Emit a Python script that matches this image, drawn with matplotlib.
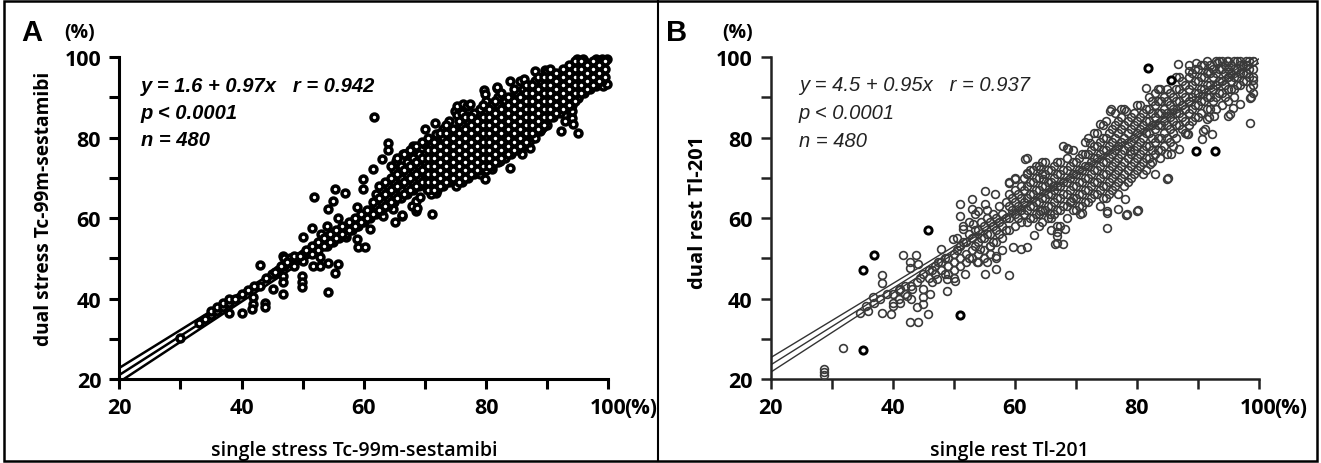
import matplotlib
matplotlib.use("Agg")
import matplotlib.pyplot as plt
from matplotlib.lines import Line2D
from matplotlib.patches import Rectangle
import numpy as np

# ---------------- panel A : stress Tc-99m-sestamibi ----------------
a_fit = (1.6, 0.97)
a_n = 480
a_stats = ["y = 1.6 + 0.97x   r = 0.942", "p < 0.0001", "n = 480"]
a_xlabel = "single stress Tc-99m-sestamibi"
a_ylabel = "dual stress Tc-99m-sestamibi"

# scattered points read one by one
a_outer = [(30, 30.2), (38, 36.5), (40, 36.5), (41.8, 38.7), (41.8, 40.4), (41.7, 37.5),
           (43.8, 39), (43.8, 37.8), (43, 48.3), (43, 43.2), (45.2, 42.3), (46.8, 41.1),
           (46.8, 45.6), (46.8, 44), (46.8, 50.6), (49.8, 45.6), (49.8, 44), (49.8, 42.8),
           (50, 49.2), (50.1, 55.2), (51.5, 57.6), (51.8, 65.2), (51.7, 48.1), (52.8, 50.2),
           (52.8, 48.1), (53.9, 58), (54.1, 62.2), (54.2, 41.5), (54.2, 48.9), (55.2, 67.1),
           (55, 64.2), (55.8, 60.1), (55.8, 48.5), (55.2, 46.3), (56.9, 66.3), (57.1, 55.4),
           (58.8, 62.8), (58.8, 54.7), (58.8, 58), (59.1, 52.7), (60.2, 52.7), (59.9, 69.6),
           (59.9, 67.1), (61, 57.2), (61.5, 72.1), (61.6, 85.2), (62.9, 74.6), (63.2, 60.4),
           (64, 78.7), (64, 77), (64.8, 62.2), (65.1, 58.9), (65.2, 74.2), (66.2, 60.5),
           (66.3, 60.8), (66.4, 75.8), (66.7, 75.8), (67.8, 63), (68.1, 67.6), (68.1, 77.9),
           (68.1, 68.8), (68.4, 77.5), (68.6, 61.8), (68.6, 64.2), (68.7, 62.5), (69.2, 65.1),
           (69.9, 78.3), (70, 82), (70, 78.7), (70.3, 67.1), (71.1, 61.1), (71.6, 83.7),
           (71.8, 80.8), (71.8, 66.2), (72.8, 79.2), (74.9, 86.7), (75.2, 87.8), (75.2, 85.7),
           (76.2, 88.3), (76.8, 87.8), (77.1, 85.3), (77.3, 88.3), (78.2, 84.9), (79, 70.9),
           (79.7, 91.7), (79.8, 90.7), (79.8, 69.6), (80.9, 72.1), (81.7, 92.4), (81.8, 92.5),
           (82.3, 74.2), (83.9, 94), (83.9, 72.5), (85.5, 94), (85.9, 75.8), (86.2, 94.6),
           (87.2, 77.5), (87.7, 80), (88, 96.5), (88.8, 81.6), (88.8, 87.4), (89.3, 82.5),
           (89.7, 96.7), (89.9, 96.5), (89.9, 85.7), (90, 86.2), (91.5, 95.3), (92.1, 88.3),
           (92.3, 81.6), (92.9, 84.1), (93.8, 87.5), (93.8, 85.4), (94, 84.9), (94, 86.6),
           (94, 89.1), (94.2, 83.3), (94.8, 93.7), (95.1, 89.9), (95.1, 81), (94.8, 99.6),
           (95.9, 99.6), (95.3, 97.4), (96.4, 97.4), (96.4, 94.2), (95.6, 93.8), (97.3, 95),
           (97.9, 99.6), (98, 92.9), (98.6, 93.3), (98.6, 99.1), (99, 99.6), (99.1, 97.4),
           (99.1, 95), (99.1, 92.9), (99.7, 99.6), (99.7, 93.3)]

# dense band, read column by column (x : list of y)
a_columns = {
    33: [34], 34: [35], 35: [36, 37], 36: [37, 38], 37: [38, 39], 38: [39, 40],
    39: [40], 40: [41], 41: [42], 42: [43], 44: [45], 45: [46], 46: [47],
    47: [48, 50], 48: [49, 50], 49: [50], 50: [51], 51: [52], 52: [53],
    53: [54, 56], 54: [55, 53], 55: [56, 54], 56: [57, 55], 57: [58, 56],
    58: [59, 57], 59: [60, 58], 60: [61, 59], 61: [62, 60], 62: [63, 61, 66],
    63: [64, 62, 67], 64: [65, 63, 68], 65: [66, 64, 69, 72], 66: [67, 65, 70, 73],
    67: [68, 66, 71, 74], 68: [69, 67, 72, 75], 69: [70, 68, 73, 76],
    70: [71, 69, 74, 76], 71: [66, 68, 70, 72, 74, 76, 78],
    72: [67, 69, 71, 73, 75, 77, 79], 73: [68, 70, 72, 74, 76, 78, 80, 82],
    74: [69, 71, 73, 75, 77, 79, 81, 84], 75: [68, 70, 72, 74, 76, 78, 80, 82],
    76: [69, 71, 73, 75, 77, 79, 81, 83, 86], 77: [70, 72, 74, 76, 78, 80, 82, 84],
    78: [71, 73, 75, 77, 79, 81, 83, 86], 79: [72, 74, 76, 78, 80, 82, 84, 87],
    80: [72, 74, 76, 78, 80, 82, 84, 86, 89], 81: [73, 75, 77, 79, 81, 83, 85, 88],
    82: [74, 76, 78, 80, 82, 84, 86, 88, 90], 83: [75, 77, 79, 81, 83, 85, 87, 89],
    84: [76, 78, 80, 82, 84, 86, 88, 90], 85: [77, 79, 81, 83, 85, 87, 89, 91],
    86: [78, 80, 82, 84, 86, 88, 90, 92], 87: [79, 81, 83, 85, 87, 89, 91, 93],
    88: [80, 82, 84, 86, 88, 90, 92, 94], 89: [82, 84, 86, 88, 90, 92, 94],
    90: [83, 85, 87, 89, 91, 93, 95], 91: [85, 87, 89, 91, 93, 95],
    92: [86, 88, 90, 92, 94], 93: [87, 89, 91, 93, 95], 94: [88, 90, 92, 94, 96],
    95: [90, 92, 94, 96, 98], 96: [91, 93, 95, 97, 99], 97: [92, 94, 96, 98],
    98: [93, 95, 97, 99], 99: [94, 96, 98, 99],
    # in-between columns
    45.5: [46.5], 46.5: [48], 47.5: [49], 48.5: [48, 50.5], 49.5: [50.5],
    50.5: [52], 51.5: [53, 51], 52.5: [54, 52], 53.5: [55, 53], 54.5: [56, 54],
    55.5: [57, 55], 56.5: [58, 56], 57.5: [59, 57], 58.5: [60, 58], 59.5: [61, 59],
    60.5: [60, 62], 61.5: [61, 64], 62.5: [62, 65, 68], 63.5: [63, 66, 69],
    64.5: [64, 67, 70, 73], 65.5: [65, 68, 71, 75], 66.5: [66, 69, 72, 76],
    67.5: [67, 70, 73, 77], 68.5: [68, 71, 74, 78], 69.5: [69, 72, 75, 79],
    70.5: [67, 69, 71, 73, 75, 77, 80], 71.5: [67, 69, 71, 73, 75, 77, 79],
    72.5: [68, 70, 72, 74, 76, 78, 81], 73.5: [69, 71, 73, 75, 77, 79, 81, 83],
    74.5: [70, 72, 74, 76, 78, 80, 82], 75.5: [69, 71, 73, 75, 77, 79, 81, 84],
    76.5: [70, 72, 74, 76, 78, 80, 82, 85], 77.5: [71, 73, 75, 77, 79, 81, 83, 85],
    78.5: [72, 74, 76, 78, 80, 82, 84], 79.5: [73, 75, 77, 79, 81, 83, 85, 88],
    80.5: [73, 75, 77, 79, 81, 83, 85, 87], 81.5: [74, 76, 78, 80, 82, 84, 86, 89],
    82.5: [75, 77, 79, 81, 83, 85, 87, 91], 83.5: [76, 78, 80, 82, 84, 86, 88, 90],
    84.5: [77, 79, 81, 83, 85, 87, 89, 92], 85.5: [78, 80, 82, 84, 86, 88, 90],
    86.5: [79, 81, 83, 85, 87, 89, 91, 93], 87.5: [81, 83, 85, 87, 89, 91, 93],
    88.5: [82, 84, 86, 88, 90, 92, 95], 89.5: [83, 85, 87, 89, 91, 93, 95],
    90.5: [85, 87, 89, 91, 93, 95, 97], 91.5: [86, 88, 90, 92, 94, 96],
    92.5: [87, 89, 91, 93, 95, 97], 93.5: [88, 90, 92, 94, 96, 98],
    94.5: [89, 91, 93, 95, 97, 99], 95.5: [91, 93, 95, 97, 99], 96.5: [92, 94, 96, 98],
    97.5: [93, 95, 97, 99], 98.5: [94, 96, 98], 99.5: [95, 97, 99],
}

# ---------------- panel B : rest Tl-201 ----------------
b_fit = (4.5, 0.95)
b_n = 480
b_stats = ["y = 4.5 + 0.95x   r = 0.937", "p < 0.0001", "n = 480"]
b_xlabel = "single rest Tl-201"
b_ylabel = "dual rest Tl-201"

# the few points printed with a heavier ring
b_bold = [(35.1, 27.2), (35.1, 47.1), (37, 50.8), (45.8, 57), (51, 36),
          (81.9, 97.3), (85.7, 94.4), (89.8, 76.7), (92.8, 76.7)]

b_outer = [(28.8, 22.5), (28.8, 21.7), (28.8, 21), (31.9, 27.6), (34.6, 36.5), (35.7, 38.2),
           (36.8, 40.3), (38.2, 45.8), (38.2, 43.8), (38.2, 36.5), (39.8, 36.1), (40.1, 38.2),
           (41.2, 42.3), (41.2, 39), (41.7, 50.8), (42.3, 40.7), (42.8, 49), (42.8, 47.7),
           (42.8, 34.1), (43.1, 42.3), (43.9, 50.8), (44.2, 48.5), (44.2, 34.1), (45, 42.3),
           (45, 40.3), (45, 38.6), (45.8, 36.1), (46.1, 41.1), (47.2, 44.8), (48, 52.3),
           (48.9, 41.9), (48.9, 44.8), (49.9, 54.7), (50.2, 44.4), (51, 63.4), (51, 60.5),
           (51.6, 57.2), (51.9, 46.1), (53, 64.7), (53, 62.2), (53.2, 58.5), (53.8, 49),
           (54, 61.8), (54.3, 52.3), (55.1, 66.7), (55.1, 63.4), (55.1, 46.1), (55.4, 49),
           (55.9, 53.1), (56.8, 65.9), (57, 47.3), (57, 50.6), (59, 45.8), (59, 68.8),
           (59.8, 52.7), (60, 69.6), (61.1, 52.3), (61.7, 74.6), (62, 52.7), (62, 71.3),
           (62, 75), (63.1, 55.7), (64.1, 72.1), (64.1, 61.8), (64.7, 69.6), (65.8, 61),
           (66.3, 68), (66.6, 53.5), (66.9, 53.9), (66.9, 55.6), (66.9, 56.4), (67.4, 58),
           (68, 53.5), (68.2, 57.2), (68.5, 77.5), (68.8, 77.1), (69.3, 64.2), (70.7, 61),
           (71, 75.8), (71, 61.2), (72.3, 78.7), (74, 83.3), (75.1, 61.8), (75.1, 57.6),
           (75.1, 61.2), (75.6, 86.6), (75.8, 87.1), (77, 62.2), (77.5, 87), (78.1, 64.7),
           (78.2, 86.7), (78.2, 60.8), (78.4, 61), (78.9, 76.7), (80, 61.8), (80.3, 62.1),
           (81.6, 92.4), (82.2, 73.4), (83, 70.9), (83.8, 75), (83.8, 92.1), (84.9, 69.6),
           (85.2, 70), (85.7, 75.8), (86.8, 98.2), (87, 77.1), (88.2, 80.8), (88.4, 80.8),
           (88.5, 96.5), (89.8, 98.6), (90.7, 79.6), (90.9, 81.6), (91.2, 82.1), (91.5, 84.5),
           (91.7, 96.5), (91.9, 85), (92.3, 80.8), (92.6, 85.3), (93.1, 98.6), (94.8, 99),
           (95, 85.3), (95.3, 85.8), (95.8, 87.4), (96.9, 88.2), (98.6, 89.9), (98.6, 92.4),
           (98.6, 83.7), (98.8, 90), (99.1, 94.4)]

b_columns = {
    36: [37], 37: [39], 38: [40], 39: [41], 40: [41, 39], 41: [42, 40], 42: [43, 41],
    43: [43, 40], 44: [44, 38], 45: [46], 46: [47, 45], 47: [48, 46], 48: [49, 47],
    49: [50, 48, 46], 50: [51, 49, 47, 45], 51: [53, 50, 48], 52: [54, 51, 49],
    53: [55, 52, 50], 54: [57, 54, 51, 49], 55: [58, 55, 52, 50], 56: [59, 56, 53, 51],
    57: [60, 57, 54, 50], 58: [61, 58, 55, 52], 59: [69, 66, 63, 60, 57],
    60: [70, 67, 64, 61, 58], 61: [68, 65, 62, 59], 62: [71, 68, 65, 62, 59],
    63: [72, 69, 66, 63, 60], 64: [73, 70, 67, 64, 61, 58], 65: [74, 71, 68, 65, 62],
    66: [72, 69, 66, 63, 60, 57], 67: [74, 71, 68, 65, 62, 58], 68: [78, 72, 69, 66, 63],
    69: [73, 70, 67, 64], 70: [74, 71, 68, 65, 62], 71: [72, 69, 66, 63],
    72: [80, 76, 73, 70, 67, 64], 73: [81, 78, 75, 72, 69, 66], 74: [79, 76, 73, 70, 67, 63],
    75: [84, 80, 77, 74, 71, 68, 65], 76: [82, 79, 76, 73, 70, 67],
    77: [84, 81, 78, 75, 72, 69, 66], 78: [87, 83, 80, 77, 74, 71, 68],
    79: [85, 82, 79, 76, 73, 70], 80: [88, 84, 81, 78, 75, 72], 81: [86, 83, 80, 77, 74, 71],
    82: [90, 87, 84, 81, 78, 75], 83: [91, 88, 85, 82, 79, 76], 84: [89, 86, 83, 80, 77],
    85: [92, 89, 86, 83, 80, 76], 86: [90, 87, 84, 81, 78], 87: [95, 92, 89, 86, 83],
    88: [93, 90, 87, 84, 81], 89: [96, 93, 90, 87, 84], 90: [97, 94, 91, 88, 85],
    91: [98, 95, 92, 89], 92: [98, 96, 93, 90, 87], 93: [99, 96, 93, 90, 87],
    94: [99, 97, 94, 91, 88], 95: [99, 97, 95, 92, 89], 96: [99, 97, 95, 92, 90],
    97: [99, 98, 96, 93], 98: [99, 98, 96, 94], 99: [99, 97, 95, 93, 91],
    # in-between columns
    44.5: [45], 46.5: [47, 44], 47.5: [49], 48.5: [50, 46],
    50.5: [52, 55], 51.5: [54, 58], 52.5: [50, 56, 59], 53.5: [53, 57, 61],
    54.5: [55, 59], 55.5: [56, 60, 62], 56.5: [54, 58, 61], 57.5: [56, 59, 63],
    58.5: [57, 60, 64], 59.5: [62, 65], 60.5: [60, 63, 66], 61.5: [61, 64, 67, 70],
    62.5: [60, 63, 66, 69, 72], 63.5: [61, 64, 67, 70, 73], 64.5: [59, 62, 65, 68, 71, 74],
    65.5: [60, 63, 66, 69, 72], 66.5: [61, 64, 67, 70, 73], 67.5: [62, 65, 68, 71, 74],
    68.5: [60, 63, 66, 69, 72, 75], 69.5: [62, 65, 68, 71, 74, 77],
    70.5: [63, 66, 69, 72, 75], 71.5: [64, 67, 70, 73, 76, 79], 72.5: [65, 68, 71, 74, 77],
    73.5: [66, 69, 72, 75, 78, 81], 74.5: [65, 68, 71, 74, 77, 80, 83],
    75.5: [66, 69, 72, 75, 78, 81], 76.5: [68, 71, 74, 77, 80, 83, 86],
    77.5: [70, 73, 76, 79, 82, 85], 78.5: [69, 72, 75, 78, 81, 84],
    79.5: [71, 74, 77, 80, 83, 86], 80.5: [73, 76, 79, 82, 85, 88],
    81.5: [72, 75, 78, 81, 84, 87], 82.5: [74, 77, 80, 83, 86, 89],
    83.5: [77, 80, 83, 86, 89, 92], 84.5: [78, 81, 84, 87, 90], 85.5: [79, 82, 85, 88, 91],
    86.5: [80, 83, 86, 89, 92, 95], 87.5: [82, 85, 88, 91, 94],
    88.5: [83, 86, 89, 92, 95, 98], 89.5: [85, 88, 91, 94, 97], 90.5: [86, 89, 92, 95, 98],
    91.5: [87, 90, 93, 96, 99], 92.5: [89, 92, 95, 97], 93.5: [91, 94, 97, 99],
    94.5: [90, 93, 96, 98], 95.5: [92, 94, 96, 98], 96.5: [93, 95, 97, 99],
    97.5: [94, 96, 98], 98.5: [95, 97, 99],
}

ticks_major = [20, 40, 60, 80, 100]
ticks_minor = [30, 50, 70, 90]

LABEL_FONT = "Open Sans"
STAT_FONT = "Liberation Sans"


def gather(outer, columns):
    xs = [p[0] for p in outer]
    ys = [p[1] for p in outer]
    for x, col in columns.items():
        xs += [x] * len(col)
        ys += col
    return np.array(xs, float), np.array(ys, float)


def draw_fit(ax, xs, ys, fit, n, color, lw):
    # regression line with its 95% confidence band
    a, b = fit
    gx = np.linspace(20, 100, 50)
    res = ys - (a + b * xs)
    s = np.sqrt(np.sum(res ** 2) / (len(xs) - 2))
    sxx = n * np.var(xs)
    band = 1.96 * s * np.sqrt(1 / n + (gx - xs.mean()) ** 2 / sxx)
    for off in (-band, 0, band):
        ax.plot(gx, a + b * gx + off, color=color, lw=lw, zorder=2)


def style_axes(ax, lw, color):
    for side in ("top", "right"):
        ax.spines[side].set_visible(False)
    for side in ("left", "bottom"):
        ax.spines[side].set_linewidth(lw)
        ax.spines[side].set_color(color)
    ax.set_xlim(20, 100)
    ax.set_ylim(20, 100)
    ax.set_xticks(ticks_major)
    ax.set_xticks(ticks_minor, minor=True)
    ax.set_yticks(ticks_major)
    ax.set_yticks(ticks_minor, minor=True)
    ax.set_xticklabels([str(t) for t in ticks_major])
    ax.tick_params(which="both", direction="out", length=7, width=lw, color=color)
    ax.tick_params(axis="x", pad=6)
    ax.tick_params(axis="y", pad=6)
    for lab in ax.get_xticklabels() + ax.get_yticklabels():
        lab.set_fontfamily(LABEL_FONT)
        lab.set_fontweight("bold")
        lab.set_fontsize(15.5)
    # "(%)" sitting right after the last x tick label
    ax.annotate("(%)", xy=(100, 0), xycoords=("data", "axes fraction"),
                xytext=(11, -13), textcoords="offset points", ha="left", va="top",
                fontsize=15, fontfamily=LABEL_FONT, fontweight="bold", color="black")


fig = plt.figure(figsize=(13.21, 4.64), dpi=100)

ax_a = fig.add_axes([0.0903, 0.181, 0.3703, 0.694])
ax_b = fig.add_axes([0.5834, 0.181, 0.3694, 0.694])

# panel A
ax_x, ax_y = gather(a_outer, a_columns)
ax_a.plot(ax_x, ax_y, "o", ms=5.0, mfc="white", mec="black", mew=2.5, clip_on=False, zorder=3)
draw_fit(ax_a, ax_x, ax_y, a_fit, a_n, "black", 1.8)
style_axes(ax_a, 2.2, "black")
for i, line in enumerate(a_stats):
    ax_a.text(0.044, 0.911 - i * 0.083, line, transform=ax_a.transAxes, va="center",
              fontsize=14.5, fontfamily=STAT_FONT, fontweight="bold", style="italic")
ax_a.set_xlabel(a_xlabel, fontsize=14, fontfamily=LABEL_FONT, fontweight="semibold")
ax_a.xaxis.set_label_coords(0.48, -0.19)
ax_a.set_ylabel(a_ylabel, fontsize=13.8, fontfamily=LABEL_FONT, fontweight="bold")
ax_a.yaxis.set_label_coords(-0.133, 0.53)

# panel B
bx, by = gather(b_outer, b_columns)
ax_b.plot(bx, by, "o", ms=5.6, mfc="none", mec="#3a3a3a", mew=1.2, clip_on=False, zorder=3)
ax_b.plot([p[0] for p in b_bold], [p[1] for p in b_bold], "o", ms=5.2, mfc="white",
          mec="black", mew=2.1, clip_on=False, zorder=4)
draw_fit(ax_b, bx, by, b_fit, b_n, "#333333", 1.0)
style_axes(ax_b, 1.8, "#222222")
for i, line in enumerate(b_stats):
    ax_b.text(0.058, 0.916 - i * 0.088, line, transform=ax_b.transAxes, va="center",
              fontsize=14.5, fontfamily=STAT_FONT, style="italic", color="#222222")
ax_b.set_xlabel(b_xlabel, fontsize=14, fontfamily=LABEL_FONT, fontweight="semibold")
ax_b.xaxis.set_label_coords(0.49, -0.19)
ax_b.set_ylabel(b_ylabel, fontsize=14.5, fontfamily=LABEL_FONT, fontweight="bold")
ax_b.yaxis.set_label_coords(-0.128, 0.52)

# panel letters and unit marks
fig.text(0.016, 0.929, "A", fontsize=21, fontweight="bold", fontfamily="Liberation Sans", va="center")
fig.text(0.049, 0.929, "(%)", fontsize=14, fontweight="bold", fontfamily=LABEL_FONT, va="center")
fig.text(0.504, 0.929, "B", fontsize=21, fontweight="bold", fontfamily="Liberation Sans", va="center")
fig.text(0.547, 0.929, "(%)", fontsize=14, fontweight="bold", fontfamily=LABEL_FONT, va="center")

# outer frame and divider
fig.add_artist(Rectangle((0.003, 0.005), 0.994, 0.99, transform=fig.transFigure,
                         fill=False, lw=1.8, ec="black"))
fig.add_artist(Line2D([0.498, 0.498], [0.005, 0.995], transform=fig.transFigure,
                      lw=1.5, color="black"))

fig.savefig("out.png", dpi=100)
